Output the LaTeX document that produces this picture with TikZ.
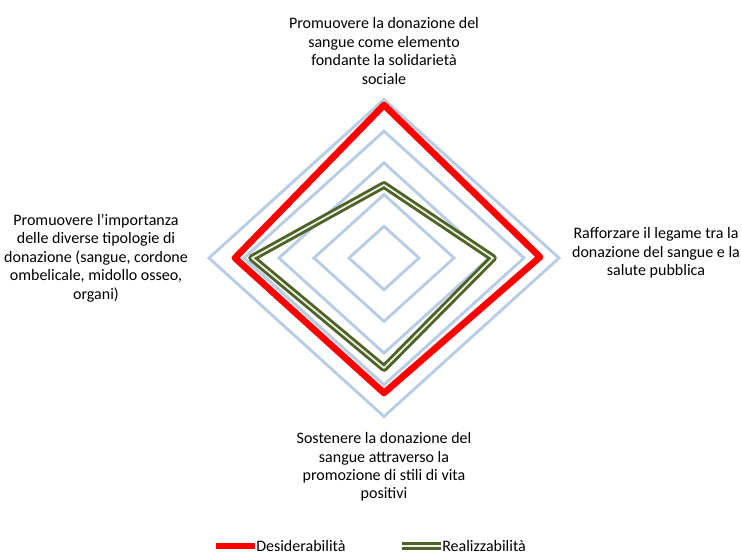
\documentclass[tikz,border=0pt]{standalone}
\usepackage{fontspec}
\setmainfont{Carlito}
\definecolor{ringblue}{HTML}{B9CDE5}
\definecolor{desred}{HTML}{FF0000}
\definecolor{realgreen}{HTML}{4F6228}
\definecolor{realfill}{HTML}{EEF3E4}
\begin{document}
\begin{tikzpicture}[x=0.75pt,y=-0.75pt,
  lbl/.style={align=center,inner sep=0pt,font=\fontsize{12}{13.8}\selectfont},
  ring/.style={draw=ringblue,line width=2.2pt,line join=miter},
  desline/.style={draw=desred,line width=5pt,line join=round},
  realline/.style={draw=realgreen,double=realfill,double distance=1.3pt,line width=2.2pt,line join=round},
  legtxt/.style={anchor=west,inner sep=0pt,font=\fontsize{12}{13.8}\selectfont}]
\useasboundingbox (0,0) rectangle (742,556);
% grid rings
\foreach \k in {1,...,5}{
  \draw[ring] (384,{258-31.7*\k}) -- ({384+35*\k},258) -- (384,{258+31.7*\k}) -- ({384-35*\k},258) -- cycle;
}
% Desiderabilita
\coordinate (dt) at (384,105);
\coordinate (dr) at (540,257);
\coordinate (db) at (384,393);
\coordinate (dl) at (235,258);
\draw[desline] (dt) -- (dr) -- (db) -- (dl) -- cycle;
% Realizzabilita
\coordinate (rt) at (384,185);
\coordinate (rr) at (493,258);
\coordinate (rb) at (384,368);
\coordinate (rl) at (252,258);
\draw[realline] (rt) -- (rr) -- (rb) -- (rl) -- cycle;
% axis labels
\node[lbl] (ltop) at (384,51) {Promuovere la donazione del\\sangue come elemento\\fondante la solidarietà\\sociale};
\node[lbl] (lright) at (656,253) {Rafforzare il legame tra la\\donazione del sangue e la\\salute pubblica};
\node[lbl] (lbottom) at (384,467) {Sostenere la donazione del\\sangue attraverso la\\promozione di stili di vita\\positivi};
\node[lbl] (lleft) at (96,258) {Promuovere l’importanza\\delle diverse tipologie di\\donazione (sangue, cordone\\ombelicale, midollo osseo,\\organi)};
% legend
\coordinate (la1) at (216,546);
\coordinate (la2) at (255,546);
\draw[desline,line cap=butt] (la1) -- (la2);
\node[legtxt] (ldes) at (256,546) {Desiderabilità};
\coordinate (lb1) at (402,546);
\coordinate (lb2) at (441,546);
\draw[realline] (lb1) -- (lb2);
\node[legtxt] (lreal) at (442,546) {Realizzabilità};
\end{tikzpicture}
\end{document}
